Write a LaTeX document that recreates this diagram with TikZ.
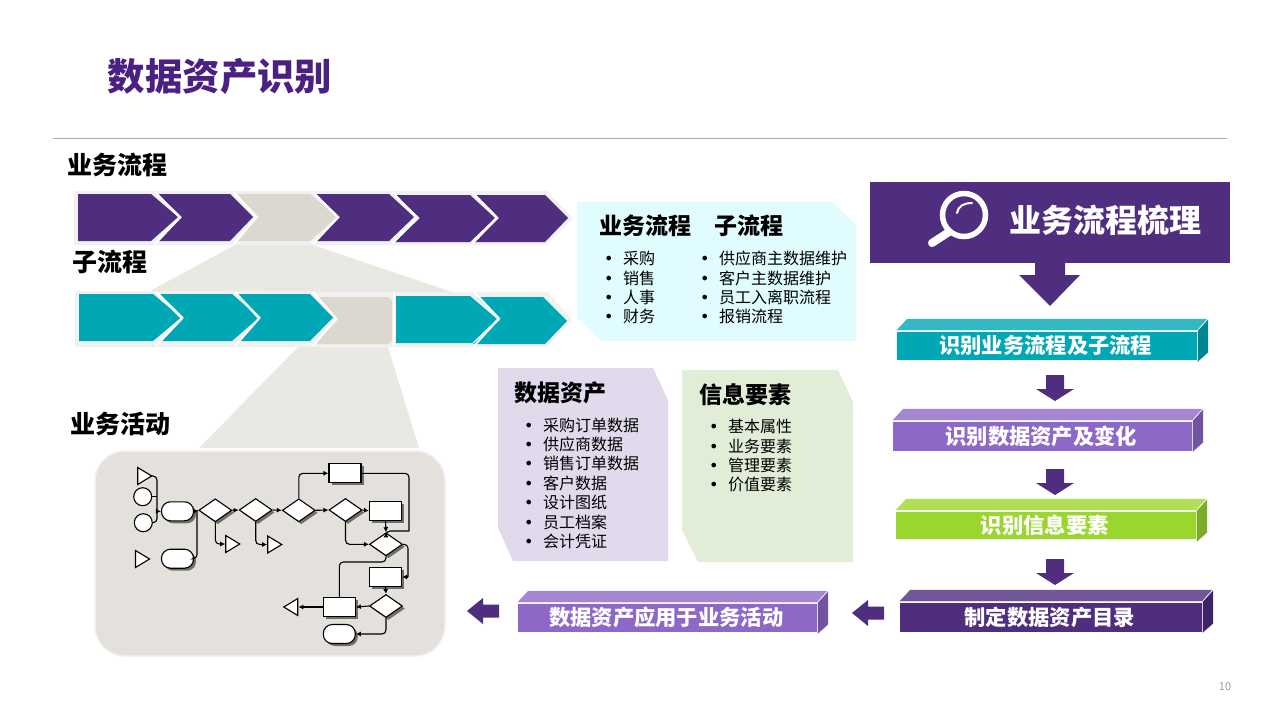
\documentclass[tikz,border=0pt]{standalone}
\usepackage{fontspec}
\setmainfont{Noto Sans CJK SC}
\newfontfamily\bulletfont{DejaVu Sans}
\usetikzlibrary{arrows.meta,calc,positioning,shapes.geometric,shadows}
\definecolor{DAtitle}{HTML}{4B2083}
\definecolor{DApurple}{HTML}{4F2D7F}
\definecolor{DAteal}{HTML}{00A7B5}
\definecolor{DAviolet}{HTML}{8E68C7}
\definecolor{DAlime}{HTML}{9BD62F}
\definecolor{DAbeige}{HTML}{DDD8CF}
\definecolor{DAfunnel}{HTML}{EAE8E3}
\definecolor{DAhalo}{HTML}{F1F1F1}
\definecolor{DApanel}{HTML}{E4E0DB}
\definecolor{DAcyan}{HTML}{E0FCFE}
\definecolor{DAlav}{HTML}{E0DAEC}
\definecolor{DAsage}{HTML}{E2EDD8}
\tikzset{
  headlabel/.style={font=\fontsize{25}{30}\selectfont\bfseries,text=black,inner sep=0pt},
  cardhead/.style={font=\fontsize{23}{28}\selectfont\bfseries,text=black,inner sep=0pt},
  cardlist/.style={font=\fontsize{16}{19.4}\selectfont,text=black,inner sep=0pt,align=left,anchor=north west},
  flowplain/.style={draw=black,line width=1.1pt,fill=white,inner sep=0pt},
  flowshape/.style={flowplain,drop shadow={shadow xshift=2.5pt,shadow yshift=-2.5pt,fill=black,opacity=0.5}},
  flowrect/.style={flowshape,rectangle,minimum width=32pt,minimum height=19pt},
  flowterm/.style={flowshape,rectangle,rounded corners=9pt,minimum width=32pt,minimum height=19pt},
  flowdiam/.style={flowshape,diamond,minimum width=33pt,minimum height=23pt},
  flowcirc/.style={flowplain,circle,minimum size=18pt},
  flowtri/.style={flowplain,isosceles triangle,isosceles triangle stretches,minimum width=17pt,minimum height=14pt},
  flowline/.style={line width=1.1pt,rounded corners=4pt},
  flowarrow/.style={flowline,-{Latex[length=5pt,width=5pt]}},
  barlabel/.style={rectangle,draw=white,line width=0.6pt,text=white,inner sep=0pt,
    font=\fontsize{21.3}{26}\selectfont\bfseries},
  blockdown/.pic={\fill[DApurple] (-9,-14) -- (9,-14) -- (9,0) -- (19,0) -- (0,12) -- (-19,0) -- (-9,0) -- cycle;},
  blockleft/.pic={\fill[DApurple] (16,-6.5) -- (0,-6.5) -- (0,-13) -- (-16,0) -- (0,13) -- (0,6.5) -- (16,6.5) -- cycle;}
}
\newcommand{\listline}[1]{\makebox[19pt][l]{\bulletfont\textbullet}#1}
\newcommand{\barshape}[9]{%
  \node[barlabel,fill=#6,minimum width={(#4-#2)*1pt},minimum height={(#5-#3)*1pt}] (#1) at ({(#2+#4)/2},{(#3+#5)/2}) {\raisebox{-1pt}{#9\kern1.5pt}};
  \fill[#7,draw=white,line width=0.5pt] (#1.north west) -- ++(11,-12) -- ++({#4-#2},0) -- (#1.north east) -- cycle;
  \fill[#8,draw=white,line width=0.5pt] (#1.north east) -- ++(11,-12) -- ++(0,34) -- ++(-11,10) -- cycle;
}
\begin{document}
\begin{tikzpicture}[x=1pt,y=-1pt,>=Latex]
  \useasboundingbox (0,0) rectangle (1280,720);
  \node[font=\fontsize{37.4}{44}\selectfont\bfseries,text=DAtitle,inner sep=0pt] (pagetitle) at (220,76) {数据资产识别};
  \draw[color=black!33,line width=0.8pt] (53,138) -- (1227,138);
  \node[text=black!40,font=\fontsize{11}{13}\selectfont,inner sep=0pt] (pagenum) at (1225,687) {10};

  % left column
  \node[headlabel] (lblflow) at (117,165) {业务流程};
  \node[headlabel] (lblsub) at (109.5,262) {子流程};
  \node[headlabel] (lblact) at (120,424) {业务活动};
  \fill[DAfunnel] (237,244) -- (310,244) -- (455,293) -- (150,291) -- cycle;
  \fill[DAfunnel] (298,347) -- (388,347) -- (419,448) -- (199,448) -- cycle;
  \fill[DAhalo] (74,191) -- (547,191) -- (573,218) -- (547,245) -- (74,245) -- cycle;
  \fill[DAhalo] (75,291) -- (547,292) -- (572,320) -- (547,347) -- (75,347) -- cycle;
  \fill[DApurple] (78,194) -- (151,194) -- (178,217) -- (151,241) -- (78,241) -- cycle;
  \fill[DApurple] (158,194) -- (230,194) -- (253,217) -- (230,241) -- (158,241) -- (182,217) -- cycle;
  \fill[DAbeige] (237,194) -- (310,194) -- (337,217) -- (310,241) -- (237,241) -- (259,217) -- cycle;
  \fill[DApurple] (316,194) -- (389,194) -- (414,217) -- (389,241) -- (316,241) -- (340,217) -- cycle;
  \fill[DApurple] (395,195) -- (470,195) -- (495,218) -- (470,242) -- (395,242) -- (420,218) -- cycle;
  \fill[DApurple] (475,195) -- (545,195) -- (568,218) -- (545,242) -- (475,242) -- (499,218) -- cycle;
  \foreach \x/\w in {155/180,234/256,313/338,392/417,472/497}
    \draw[white,line width=2pt] (\x,192) -- (\w,217.5) -- (\x,244);
  \fill[DAteal] (79,294) -- (153,294) -- (181,317.5) -- (153,341) -- (79,341) -- cycle;
  \fill[DAteal] (160,294) -- (232,294) -- (259,317.5) -- (232,341) -- (160,341) -- (184,317.5) -- cycle;
  \fill[DAteal] (238,294) -- (310,294) -- (333,317.5) -- (310,341) -- (238,341) -- (261,317.5) -- cycle;
  \fill[DAbeige] (318,297) -- (388,297) -- (392,301) -- (392,340) -- (388,344) -- (314,344) -- (338,320) -- cycle;
  \fill[DAteal] (396,296) -- (470,296) -- (497,319) -- (472,343) -- (396,343) -- cycle;
  \fill[DAteal] (477,297) -- (543,297) -- (567,321) -- (545,344) -- (473,344) -- (500,320) -- cycle;
  \foreach \x/\w in {156/182,235/259,313/336,474/499}
    \draw[white,line width=2pt] (\x,292) -- (\w,318.5) -- (\x,346);
  \draw[white,line width=2pt] (394,292) -- (394,346);

  % activity panel
  \node[rectangle,rounded corners=30pt,fill=DApanel,draw=DAhalo,line width=1.5pt,minimum width=350pt,minimum height=205pt] (panel) at (270,553.5) {};
  \node[flowtri] (tria) at (142.5,476) {};
  \node[flowcirc] (cira) at (142.7,496.7) {};
  \node[flowcirc] (cirb) at (143.3,522.7) {};
  \node[flowterm] (terma) at (177.5,511.3) {};
  \node[flowtri] (trib) at (140.3,559) {};
  \node[flowterm] (termb) at (177.5,558.7) {};
  \node[flowdiam] (dia) at (215.3,510.3) {};
  \node[flowdiam] (dib) at (255.7,510) {};
  \node[flowdiam] (dic) at (298.8,510.3) {};
  \node[flowdiam] (did) at (345.5,510) {};
  \node[flowrect] (recta) at (345,473.3) {};
  \node[flowrect] (rectb) at (385.5,510.8) {};
  \node[flowdiam] (die) at (386,544.3) {};
  \node[flowrect] (rectc) at (385.5,577) {};
  \node[flowdiam] (dif) at (386,606) {};
  \node[flowrect] (rectd) at (339.3,607) {};
  \node[flowterm] (termc) at (339.3,634) {};
  \node[flowtri,shape border rotate=180] (trio) at (293,607) {};
  \node[flowtri] (tric) at (230.5,544) {};
  \node[flowtri] (trid) at (272.5,544.5) {};
  \coordinate (joina) at (157,511.3);
  \coordinate (joinb) at (197,510.3);
  \coordinate (joinc) at (409,531);
  \coordinate (joind) at (408,577);
  \coordinate (joine) at (360,562);
  \draw[flowline] (tria.east) -| (joina);
  \draw[flowline] (cira.east) -- (cira.east -| joina);
  \draw[flowline] (cirb.east) -| (joina);
  \draw[flowarrow] (joina) -- (terma.west);
  \draw[flowline] (termb.east) -| (joinb);
  \draw[flowarrow] (terma.east) -- (dia.west);
  \draw[flowarrow] (dia.east) -- (dib.west);
  \draw[flowarrow] (dib.east) -- (dic.west);
  \draw[flowarrow] (dic.east) -- (did.west);
  \draw[flowarrow] (did.east) -- (rectb.west);
  \draw[flowarrow] (dia.south) |- (tric.west);
  \draw[flowarrow] (dib.south) |- (trid.west);
  \draw[flowarrow] (dic.north) |- (recta.west);
  \draw[flowline] (recta.east) -| (joinc);
  \draw[flowarrow] (joinc) -- (386,531) -- (die.north);
  \draw[flowarrow] (did.south) |- (die.west);
  \draw[flowarrow] (rectb.south) -- (die.north);
  \draw[flowline] (die.east) -| (joind);
  \draw[flowarrow] (joind) -- (rectc.east);
  \draw[flowline] (die.south) |- (joine) -| (rectd.north);
  \draw[flowarrow] (rectc.south) -- (dif.north);
  \draw[flowarrow] (dif.west) -- (rectd.east);
  \draw[flowarrow] (rectd.west) -- (trio.east);
  \draw[flowarrow] (dif.south) |- (termc.east);

  % cards
  \fill[DAcyan] (577,202) -- (832,202) -- (856,225) -- (856,341) -- (602,341) -- (577,318) -- cycle;
  \node[cardhead,anchor=west] (headflow) at (599,226) {业务流程};
  \node[cardhead,anchor=west] (headsub) at (714,226) {子流程};
  \node[cardlist] (listflow) at (604,251) {\listline{采购}\\\listline{销售}\\\listline{人事}\\\listline{财务}};
  \node[cardlist] (listsub) at (700,251) {\listline{供应商主数据维护}\\\listline{客户主数据维护}\\\listline{员工入离职流程}\\\listline{报销流程}};
  \fill[DAlav] (498,368) -- (653,368) -- (668,400) -- (668,561) -- (513,561) -- (498,528) -- cycle;
  \node[cardhead,anchor=west] (headdata) at (514,393) {数据资产};
  \node[cardlist] (listdata) at (524,417.5) {\listline{采购订单数据}\\\listline{供应商数据}\\\listline{销售订单数据}\\\listline{客户数据}\\\listline{设计图纸}\\\listline{员工档案}\\\listline{会计凭证}};
  \fill[DAsage] (682,370) -- (838,370) -- (853,402) -- (853,562) -- (698,562) -- (682,530) -- cycle;
  \node[cardhead,anchor=west] (headinfo) at (699,395) {信息要素};
  \node[cardlist] (listinfo) at (709,419) {\listline{基本属性}\\\listline{业务要素}\\\listline{管理要素}\\\listline{价值要素}};

  % right column
  \node[rectangle,fill=DApurple,minimum width=360pt,minimum height=81pt,inner sep=0pt] (mainbar) at (1050,222.5) {};
  \node[text=white,inner sep=0pt,font=\fontsize{32}{38}\selectfont\bfseries] (maintext) at (1105,220) {业务流程梳理};
  \draw[white,line width=5.5pt] (964,215) circle (21.5);
  \draw[white,line width=8pt,line cap=round] (932,243) -- (949,232);
  \draw[white,line width=2pt,line cap=round] (957,213) .. controls (958,206) and (964,203) .. (972,203);
  \fill[DApurple] (1035,263) -- (1065,263) -- (1065,275) -- (1080,275) -- (1050,306) -- (1019,275) -- (1035,275) -- cycle;
  \barshape{bara}{896}{331}{1197}{360}{DAteal}{DAteal!80!white}{DAteal!80!black}{识别业务流程及子流程}
  \pic at (1055,389) {blockdown};
  \barshape{barb}{892}{421}{1192}{451}{DAviolet}{DAviolet!80!white}{DAviolet!80!black}{识别数据资产及变化}
  \pic at (1055,483) {blockdown};
  \barshape{barc}{895}{511}{1196}{539}{DAlime}{DAlime!80!white}{DAlime!80!black}{识别信息要素}
  \pic at (1055,573) {blockdown};
  \barshape{bard}{899}{602}{1202}{632}{DApurple}{DApurple!80!white}{DApurple!80!black}{制定数据资产目录}
  \pic at (868,613) {blockleft};
  \barshape{bare}{517}{603}{817}{632}{DAviolet}{DAviolet!80!white}{DAviolet!80!black}{数据资产应用于业务活动}
  \pic at (483,611) {blockleft};
\end{tikzpicture}
\end{document}
